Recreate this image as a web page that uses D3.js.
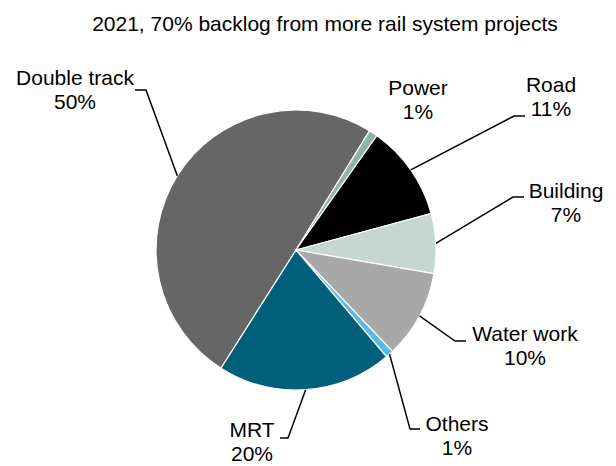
<!DOCTYPE html>
<html lang="en">
<head>
	<meta charset="UTF-8">
	<title>Backlog by project type</title>
	<script src="https://cdnjs.cloudflare.com/ajax/libs/d3/7.8.5/d3.min.js"></script>
	<style>
		body { margin: 0; background: #fff; }
		text { font-family: "Liberation Sans", Arial, sans-serif; font-size: 21px; fill: #000; }
	</style>
</head>
<body>
	<div id="chart"></div>
	<script>

	// data, clockwise from the lower left
	var categories = ['Double track', 'Power', 'Road', 'Building', 'Water work', 'Others', 'MRT'];
	var shares = [49.8, 1.0, 11.0, 6.9, 10.2, 0.9, 20.2];
	var colors = ['#666666', '#8fb4a6', '#000000', '#c6d7d1', '#a8a8a8', '#5cb8e6', '#005f7a'];
	var title = '2021, 70% backlog from more rail system projects';

	// label placement: elbow of the leader line, end of it, label centre and first baseline
	var labelPos = [
		{ elbow: [146, 90], end: [135, 90], x: 75, y: 85 },
		{ elbow: null, end: null, x: 418, y: 95 },
		{ elbow: [514, 116], end: [525, 116], x: 551, y: 92 },
		{ elbow: [513, 197], end: [524, 197], x: 566, y: 198 },
		{ elbow: [455, 341], end: [466, 341], x: 525, y: 341 },
		{ elbow: [410, 429], end: [420, 429], x: 457, y: 431 },
		{ elbow: [288, 438], end: [280, 438], x: 252, y: 437 }
	];

	var width = 616, height = 466;
	var cx = 296, cy = 250, r = 140;
	var startDeg = 212.4;

	var svg = d3.select('#chart').append('svg')
		.attr('width', width)
		.attr('height', height);

	svg.append('text')
		.attr('x', 325)
		.attr('y', 31)
		.attr('text-anchor', 'middle')
		.text(title);

	var data = categories.map(function(c, i) { return { name: c, value: shares[i], i: i }; });

	var start = startDeg * Math.PI / 180;
	var pie = d3.pie()
		.sort(null)
		.value(function(d) { return d.value; })
		.startAngle(start)
		.endAngle(start + 2 * Math.PI);

	var arc = d3.arc().innerRadius(0).outerRadius(r);
	var arcs = pie(data);

	var g = svg.append('g').attr('transform', 'translate(' + cx + ',' + cy + ')');

	g.selectAll('path.slice')
		.data(arcs)
		.enter()
		.append('path')
		.attr('class', 'slice')
		.attr('d', arc)
		.attr('fill', function(d) { return colors[d.data.i]; })
		.attr('stroke', '#fff')
		.attr('stroke-width', 1.2);

	var pct = d3.format('.0%');

	// leader lines
	arcs.forEach(function(a) {
		var p = labelPos[a.data.i];
		if (!p.elbow) return;
		var mid = (a.startAngle + a.endAngle) / 2;
		var sx = cx + r * Math.sin(mid), sy = cy - r * Math.cos(mid);
		svg.append('polyline')
			.attr('points', [[sx, sy], p.elbow, p.end].map(function(q) { return q.join(','); }).join(' '))
			.attr('fill', 'none')
			.attr('stroke', '#000')
			.attr('stroke-width', 1.5);
	});

	// labels
	arcs.forEach(function(a) {
		var p = labelPos[a.data.i];
		var t = svg.append('text')
			.attr('text-anchor', 'middle')
			.attr('x', p.x)
			.attr('y', p.y);
		t.append('tspan').attr('x', p.x).text(a.data.name);
		t.append('tspan').attr('x', p.x).attr('dy', 24).text(pct(a.data.value / 100));
	});

	</script>
</body>
</html>
